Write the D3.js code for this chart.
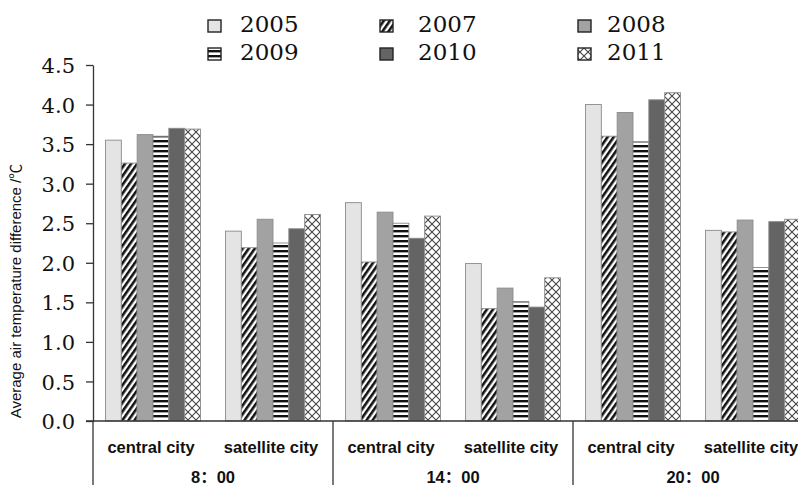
<!DOCTYPE html>
<html>
<head>
<meta charset="utf-8">
<script src="https://cdn.jsdelivr.net/npm/d3@7"></script>
<style>
  html, body { margin: 0; padding: 0; background: #fff; }
  svg { display: block; }
</style>
</head>
<body>
<script>
// Time periods and city types along the x axis
const periods = ["8：00", "14：00", "20：00"];
const cities = ["central city", "satellite city"];
const years = ["2005", "2007", "2008", "2009", "2010", "2011"];
const yTicks = [0, 0.5, 1.0, 1.5, 2.0, 2.5, 3.0, 3.5, 4.0, 4.5];

// Average air temperature difference (℃), ordered:
// 8:00 central, 8:00 satellite, 14:00 central, 14:00 satellite, 20:00 central, 20:00 satellite
const v2005 = [3.55, 2.40, 2.76, 1.99, 4.00, 2.41];
const v2007 = [3.26, 2.19, 2.01, 1.42, 3.60, 2.39];
const v2008 = [3.62, 2.55, 2.64, 1.68, 3.90, 2.54];
const v2009 = [3.60, 2.25, 2.50, 1.51, 3.53, 1.94];
const v2010 = [3.70, 2.43, 2.31, 1.44, 4.06, 2.52];
const v2011 = [3.69, 2.61, 2.59, 1.81, 4.15, 2.55];

const seriesValues = [v2005, v2007, v2008, v2009, v2010, v2011];

const W = 798, H = 485;
const svg = d3.select("body").append("svg")
  .attr("width", W).attr("height", H)
  .style("font-family", "'Liberation Sans', Arial, sans-serif");

// ---- fill patterns ----
const defs = svg.append("defs");

const diag = defs.append("pattern").attr("id", "p-diag")
  .attr("patternUnits", "userSpaceOnUse").attr("width", 5).attr("height", 10)
  .attr("patternTransform", "rotate(35)");
diag.append("rect").attr("width", 5).attr("height", 10).attr("fill", "#fff");
diag.append("rect").attr("width", 2.6).attr("height", 10).attr("fill", "#111");

const hstr = defs.append("pattern").attr("id", "p-hstr")
  .attr("patternUnits", "userSpaceOnUse").attr("width", 10).attr("height", 5);
hstr.append("rect").attr("width", 10).attr("height", 5).attr("fill", "#fff");
hstr.append("rect").attr("width", 10).attr("height", 2.4).attr("fill", "#111");

const cross = defs.append("pattern").attr("id", "p-cross")
  .attr("patternUnits", "userSpaceOnUse").attr("width", 8).attr("height", 8);
cross.append("rect").attr("width", 8).attr("height", 8).attr("fill", "#fff");
cross.append("path").attr("d", "M0,0L8,8M8,0L0,8")
  .attr("stroke", "#444").attr("stroke-width", 1.1).attr("fill", "none");

const fills = {
  "2005": "#e4e4e4",
  "2007": "url(#p-diag)",
  "2008": "#a2a2a2",
  "2009": "url(#p-hstr)",
  "2010": "#646464",
  "2011": "url(#p-cross)"
};

// ---- scales ----
const slots = [];
periods.forEach(p => cities.forEach(c => slots.push(p + "|" + c)));

const x0 = d3.scaleBand().domain(slots).range([93, 813]).paddingInner(0).paddingOuter(0);
const x1 = d3.scaleBand().domain(years).range([12.5, 107.5]).padding(0);
const y = d3.scaleLinear().domain([0, 4.5]).range([421, 65]);

const axisColor = "#333";

// ---- bars ----
const barData = [];
years.forEach((yr, i) => {
  seriesValues[i].forEach((v, j) => barData.push({ year: yr, slot: slots[j], value: v }));
});

svg.append("g").selectAll("rect").data(barData).join("rect")
  .attr("x", d => x0(d.slot) + x1(d.year))
  .attr("y", d => y(d.value))
  .attr("width", x1.bandwidth())
  .attr("height", d => y(0) - y(d.value))
  .attr("fill", d => fills[d.year])
  .attr("stroke", "#8a8a8a")
  .attr("stroke-width", 0.9);

// ---- y axis ----
const yAxis = svg.append("g").attr("transform", "translate(93,0)")
  .call(d3.axisLeft(y).tickValues(yTicks).tickFormat(d3.format(".1f")).tickSize(7).tickSizeOuter(0));
yAxis.select(".domain").attr("stroke", axisColor).attr("stroke-width", 1.3);
yAxis.selectAll(".tick line").attr("stroke", axisColor).attr("stroke-width", 1.3);
yAxis.selectAll(".tick text")
  .attr("x", -18)
  .attr("dy", "0.36em")
  .attr("fill", "#111")
  .style("font-family", "'DejaVu Serif', serif")
  .style("font-size", "21px");

// ---- x axis line and group separators ----
svg.append("line")
  .attr("x1", 86).attr("x2", W).attr("y1", y(0)).attr("y2", y(0))
  .attr("stroke", axisColor).attr("stroke-width", 1.3);

const groupEdges = periods.map(p => x0(p + "|" + cities[0]));
svg.append("g").selectAll("line").data(groupEdges).join("line")
  .attr("x1", d => d).attr("x2", d => d)
  .attr("y1", y(0)).attr("y2", H)
  .attr("stroke", axisColor).attr("stroke-width", 1.3);

// city labels
svg.append("g").selectAll("text").data(slots).join("text")
  .attr("x", d => x0(d) + x0.bandwidth() / 2 - 2)
  .attr("y", 453)
  .attr("text-anchor", "middle")
  .style("font-size", "16.5px")
  .style("font-weight", "bold")
  .attr("fill", "#111")
  .text(d => d.split("|")[1]);

// period labels
svg.append("g").selectAll("text").data(periods).join("text")
  .attr("x", p => x0(p + "|" + cities[0]) + x0.bandwidth())
  .attr("y", 483)
  .attr("text-anchor", "middle")
  .style("font-size", "16.5px")
  .style("font-weight", "bold")
  .style("font-family", "'Liberation Sans', 'Noto Sans CJK SC', sans-serif")
  .attr("fill", "#111")
  .text(p => p);

// y axis title
svg.append("text")
  .attr("transform", "translate(21,291) rotate(-90)")
  .attr("text-anchor", "middle")
  .style("font-size", "15px")
  .style("font-family", "'Liberation Sans', 'Noto Sans CJK SC', sans-serif")
  .attr("fill", "#111")
  .text("Average air temperature difference /℃");

// ---- legend ----
const legendPos = [
  { sx: 208, tx: 240, row: 0 },
  { sx: 380, tx: 418, row: 0 },
  { sx: 578, tx: 607, row: 0 },
  { sx: 208, tx: 240, row: 1 },
  { sx: 380, tx: 418, row: 1 },
  { sx: 578, tx: 607, row: 1 }
];
const legend = svg.append("g");
years.forEach((yr, i) => {
  const p = legendPos[i];
  const base = p.row === 0 ? 32 : 60;
  legend.append("rect")
    .attr("x", p.sx).attr("y", base - 12)
    .attr("width", 13).attr("height", 12)
    .attr("fill", fills[yr])
    .attr("stroke", "#222").attr("stroke-width", 1.4);
  legend.append("text")
    .attr("x", p.tx).attr("y", base)
    .style("font-family", "'DejaVu Serif', serif")
    .style("font-size", "23px")
    .attr("fill", "#111")
    .text(yr);
});
</script>
</body>
</html>
